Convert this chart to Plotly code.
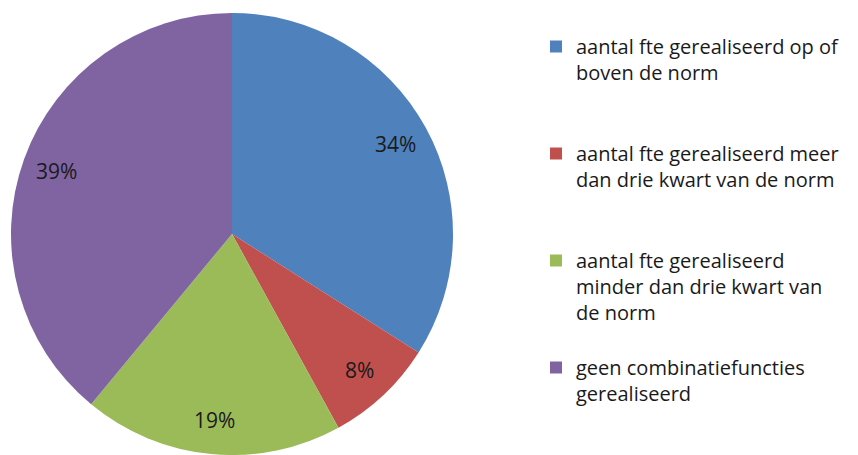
import math
import plotly.graph_objects as go

categories = [
    "aantal fte gerealiseerd op of boven de norm",
    "aantal fte gerealiseerd meer dan drie kwart van de norm",
    "aantal fte gerealiseerd minder dan drie kwart van de norm",
    "geen combinatiefuncties gerealiseerd",
]
legend_lines = [
    ["aantal fte gerealiseerd op of", "boven de norm"],
    ["aantal fte gerealiseerd meer", "dan drie kwart van de norm"],
    ["aantal fte gerealiseerd", "minder dan drie kwart van", "de norm"],
    ["geen combinatiefuncties", "gerealiseerd"],
]
values = [34, 8, 19, 39]
colors = ["#4F81BD", "#C0504D", "#9BBB59", "#8064A2"]

W, H = 858, 455
FONT = "Open Sans, sans-serif"
TXT = "#1a1a1a"

# pad legend entries (except the last) to 4 lines so spacing matches the reference
labels = []
for i, lines in enumerate(legend_lines):
    if i < len(legend_lines) - 1:
        lines = lines + ["&nbsp;"] * (4 - len(lines))
    labels.append("<br>".join(lines))

dom_x = [11 / W, 453 / W]
dom_y = [0, 442 / H]

fig = go.Figure(
    go.Pie(
        labels=labels,
        values=values,
        sort=False,
        direction="clockwise",
        rotation=0,
        marker=dict(colors=colors, line=dict(width=0)),
        textinfo="none",
        hoverinfo="label+percent",
        domain=dict(x=dom_x, y=dom_y),
    )
)

# percentage labels placed along each slice's bisector
cx = (dom_x[0] + dom_x[1]) / 2 * W
cy = H - (dom_y[0] + dom_y[1]) / 2 * H
R = min((dom_x[1] - dom_x[0]) * W, (dom_y[1] - dom_y[0]) * H) / 2
total = sum(values)
cum = 0
for v in values:
    mid = (cum + v / 2) / total * 2 * math.pi
    cum += v
    px = cx + 0.845 * R * math.sin(mid)
    py = cy - 0.845 * R * math.cos(mid)
    fig.add_annotation(
        x=px / W, y=1 - py / H, xref="paper", yref="paper",
        text=f"{round(v / total * 100)}%", showarrow=False,
        font=dict(family=FONT, size=21, color=TXT),
        xanchor="center", yanchor="middle",
    )

fig.update_layout(
    width=W, height=H,
    margin=dict(l=0, r=0, t=0, b=0),
    paper_bgcolor="white",
    plot_bgcolor="white",
    showlegend=True,
    legend=dict(
        x=536 / W, y=1 - 27 / H, xanchor="left", yanchor="top",
        font=dict(family=FONT, size=20, color=TXT),
        valign="top",
        bgcolor="rgba(0,0,0,0)",
        itemclick=False, itemdoubleclick=False,
    ),
)

fig.write_html(
    "out.html",
    config={"displayModeBar": False},
    post_script="document.body.style.margin='0';",
)
